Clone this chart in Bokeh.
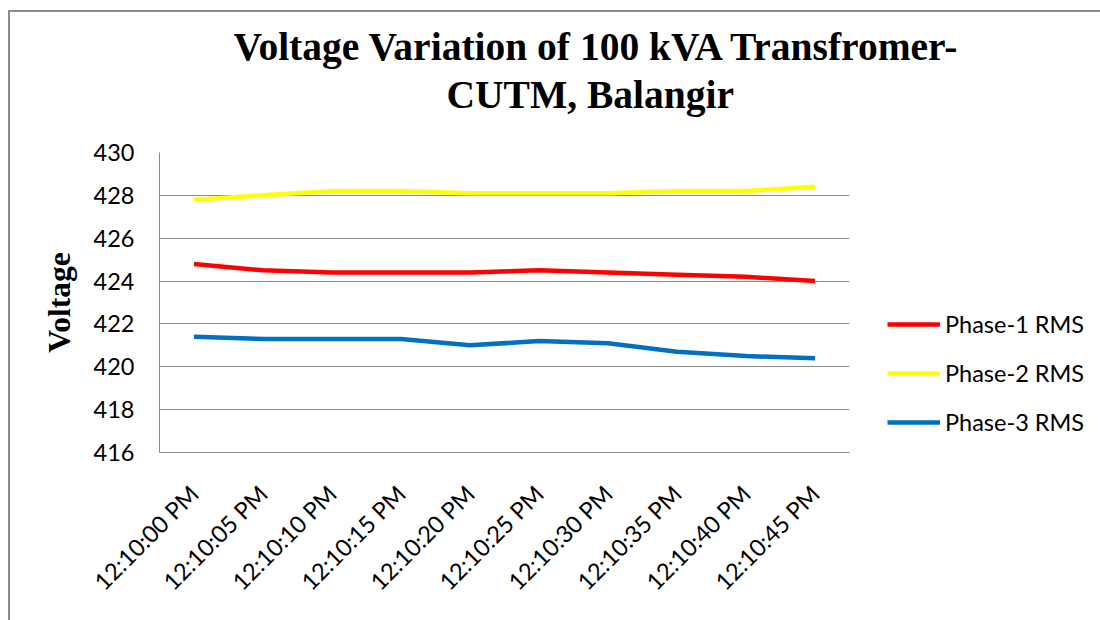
from bokeh.plotting import figure
from bokeh.models import (FactorRange, Range1d, FixedTicker, Legend, LegendItem, Title)
from bokeh.embed import file_html
from bokeh.resources import INLINE
import math

times = ["12:10:00 PM", "12:10:05 PM", "12:10:10 PM", "12:10:15 PM", "12:10:20 PM",
         "12:10:25 PM", "12:10:30 PM", "12:10:35 PM", "12:10:40 PM", "12:10:45 PM"]
phase1 = [424.8, 424.5, 424.4, 424.4, 424.4, 424.5, 424.4, 424.3, 424.2, 424.0]
phase2 = [427.8, 428.0, 428.2, 428.2, 428.1, 428.1, 428.1, 428.2, 428.2, 428.4]
phase3 = [421.4, 421.3, 421.3, 421.3, 421.0, 421.2, 421.1, 420.7, 420.5, 420.4]
y_ticks = [416, 418, 420, 422, 424, 426, 428, 430]
series_names = ["Phase-1 RMS", "Phase-2 RMS", "Phase-3 RMS"]
colors = ["#FF0000", "#FFFF00", "#0070C0"]
title_lines = ["Voltage Variation of 100 kVA Transfromer-", "CUTM, Balangir"]

ML, MT, FW, FH = 149, 140, 690, 300

p = figure(frame_width=FW, frame_height=FH, output_backend="svg", toolbar_location=None,
           x_range=FactorRange(*times), y_range=Range1d(416, 430),
           min_border_left=ML, min_border_top=MT,
           min_border_right=0, min_border_bottom=168)
p.styles = {"margin-left": "8px", "margin-top": "10px",
            "border-left": "2px solid #8c8c8c", "border-top": "2px solid #8c8c8c"}
p.outline_line_color = None
p.background_fill_color = "white"
p.border_fill_color = "white"
p.title = None

lines = []
for vals, c in zip([phase1, phase2, phase3], colors):
    r = p.line(times, vals, line_color=c, line_width=4.5)
    lines.append(r)

p.yaxis.ticker = FixedTicker(ticks=y_ticks)
p.ygrid.grid_line_color = "#8a8a8a"
p.ygrid.grid_line_width = 1
p.xgrid.grid_line_color = None

for ax in (p.xaxis[0], p.yaxis[0]):
    ax.axis_line_color = "#8a8a8a"
    ax.major_tick_line_color = None
    ax.minor_tick_line_color = None
    ax.major_label_text_font = "Lato"
    ax.major_label_text_font_size = "23.5px"
    ax.major_label_text_color = "#000000"

p.yaxis.major_label_standoff = 19
p.yaxis.axis_label = "Voltage"
p.yaxis.axis_label_text_font = "Liberation Serif"
p.yaxis.axis_label_text_font_style = "bold"
p.yaxis.axis_label_text_font_size = "31.5px"
p.yaxis.axis_label_text_color = "#000000"
p.yaxis.axis_label_standoff = 14

p.xaxis.major_label_orientation = math.pi / 4
p.xaxis.major_label_standoff = 31

legend = Legend(items=[LegendItem(label=n, renderers=[r]) for n, r in zip(series_names, lines)],
                location=(38, 16), orientation="vertical",
                glyph_width=53, glyph_height=20, label_height=20,
                label_standoff=5, spacing=21, padding=0, margin=0,
                border_line_color=None, background_fill_alpha=0,
                label_text_font="Lato", label_text_font_size="23.5px",
                label_text_color="#000000")
p.add_layout(legend, "right")

# spacer between the title block and the plot frame
p.add_layout(Title(text=" ", text_font_size="2px", standoff=24), "above")
offsets = [74, 287]
standoffs = [-13, 16]
for t, off, so in reversed(list(zip(title_lines, offsets, standoffs))):
    p.add_layout(Title(text=t, align="left", offset=off, standoff=so,
                       text_font="Liberation Serif", text_font_style="bold",
                       text_font_size="39.5px", text_color="#000000"), "above")

open("out.html", "w").write(file_html(p, INLINE))
